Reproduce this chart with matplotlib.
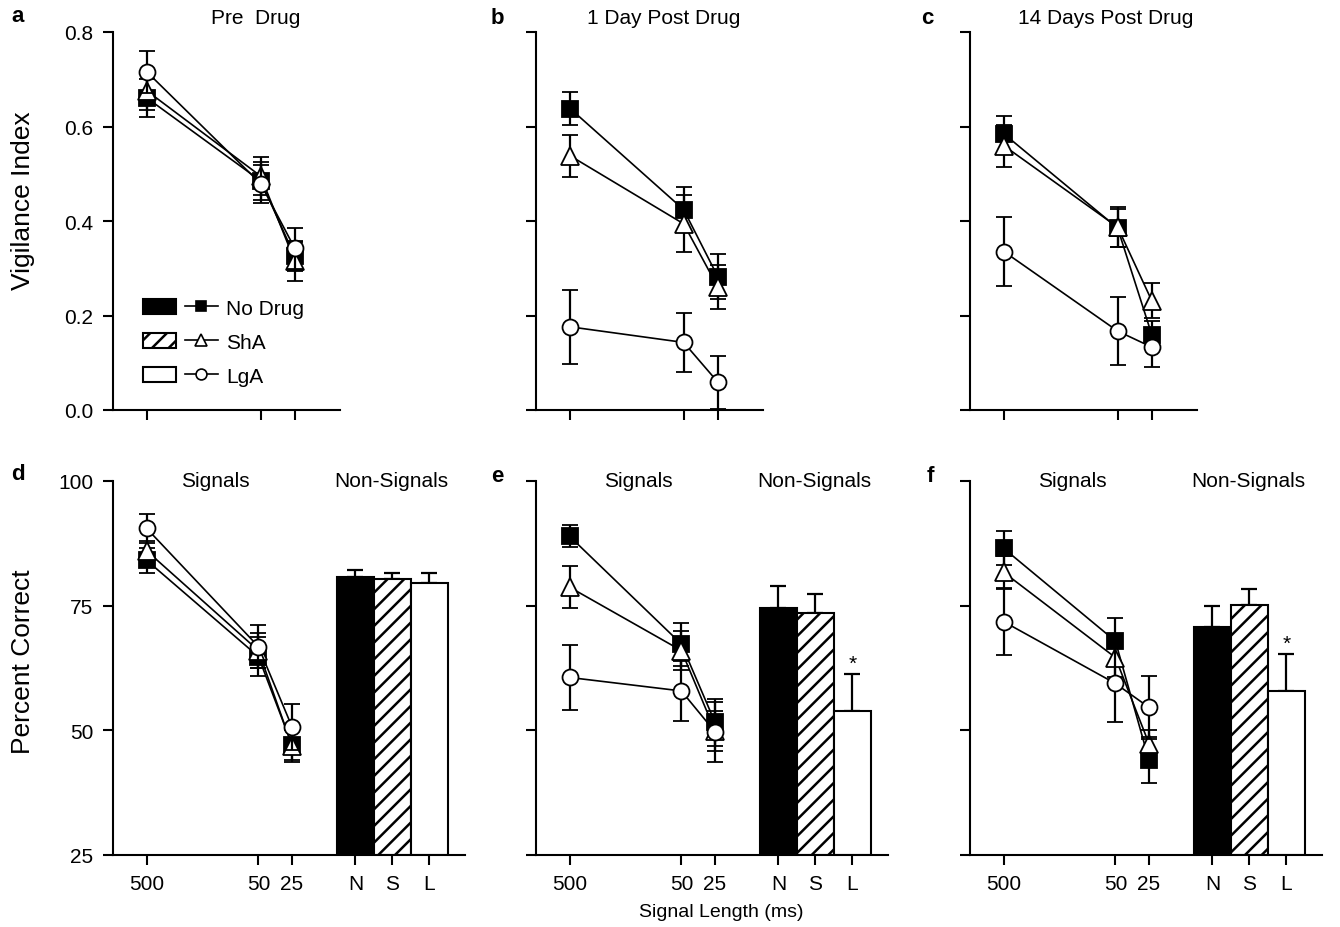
import numpy as np
import matplotlib.pyplot as plt
from matplotlib.patches import Patch
from matplotlib.lines import Line2D
from matplotlib.legend_handler import HandlerTuple

plt.rcParams['font.family'] = 'Liberation Sans'
plt.rcParams['hatch.linewidth'] = 1.8

# ---- data ----
signal_ms = [500, 50, 25]
groups = ['No Drug', 'ShA', 'LgA']
bar_cats = ['N', 'S', 'L']
titles = ['Pre  Drug', '1 Day Post Drug', '14 Days Post Drug']

# vigilance index, rows = No Drug, ShA, LgA ; cols = 500, 50, 25 ms
vi_pre = [[0.660, 0.485, 0.325], [0.675, 0.495, 0.315], [0.715, 0.479, 0.342]]
vi_pre_sem = [[0.040, 0.040, 0.030], [0.040, 0.040, 0.043], [0.045, 0.040, 0.043]]
vi_1d = [[0.638, 0.424, 0.282], [0.538, 0.394, 0.260], [0.176, 0.143, 0.059]]
vi_1d_sem = [[0.035, 0.047, 0.048], [0.044, 0.060, 0.046], [0.078, 0.063, 0.056]]
vi_14d = [[0.584, 0.385, 0.159], [0.559, 0.387, 0.231], [0.335, 0.167, 0.133]]
vi_14d_sem = [[0.038, 0.040, 0.030], [0.045, 0.042, 0.037], [0.073, 0.072, 0.041]]

# percent correct on signal trials
pc_pre = [[84.1, 64.8, 47.1], [86.0, 66.0, 46.9], [90.5, 66.8, 50.7]]
pc_pre_sem = [[2.5, 3.9, 3.0], [2.0, 3.5, 3.3], [2.9, 4.3, 4.6]]
pc_1d = [[88.9, 67.3, 51.6], [78.7, 66.0, 49.9], [60.6, 57.9, 49.7]]
pc_1d_sem = [[2.2, 4.3, 4.7], [4.2, 4.0, 4.0], [6.6, 6.0, 6.0]]
pc_14d = [[86.5, 67.9, 44.0], [81.7, 64.6, 47.3], [71.8, 59.4, 54.6]]
pc_14d_sem = [[3.4, 4.7, 4.6], [3.2, 4.0, 2.8], [6.6, 7.7, 6.3]]

# percent correct on non-signal trials (N, S, L)
ns_pre = [80.8, 80.3, 79.5]
ns_pre_sem = [1.4, 1.2, 2.0]
ns_1d = [74.5, 73.5, 53.8]
ns_1d_sem = [4.4, 3.9, 7.5]
ns_14d = [70.8, 75.1, 57.8]
ns_14d_sem = [4.2, 3.2, 7.5]
ns_sig = [[False, False, False], [False, False, True], [False, False, True]]

# ---- layout ----
W, H = 1340, 928
fig = plt.figure(figsize=(W / 100, H / 100), dpi=100)


def px_axes(left, top, width, height):
    return fig.add_axes([left / W, 1 - (top + height) / H, width / W, height / H])


MARKERS = [('s', 'black', 11), ('^', 'white', 13), ('o', 'white', 11.5)]
BAR_FILL = ['black', 'white', 'white']
BAR_HATCH = [None, '//', None]

xpos = 3 - np.log10(signal_ms)   # log spacing, reversed
bar_x = np.array([2.17, 2.50, 2.83])


def style(ax, xlim, ylim, yticks, show_labels):
    for s in ['top', 'right']:
        ax.spines[s].set_visible(False)
    for s in ['left', 'bottom']:
        ax.spines[s].set_linewidth(1.5)
    ax.tick_params(direction='out', length=7, width=1.5, labelsize=15, pad=7)
    ax.set_xlim(*xlim)
    ax.set_ylim(*ylim)
    ax.set_yticks(yticks)
    if not show_labels:
        ax.tick_params(labelleft=False)


def draw_lines(ax, means, sems):
    for k in range(3):
        m, fc, ms = MARKERS[k]
        ax.errorbar(xpos, means[k], yerr=sems[k], color='black', lw=1.2,
                    marker=m, ms=ms, mfc=fc, mec='black', mew=1.3,
                    ecolor='black', elinewidth=1.6, capsize=6, capthick=1.6,
                    zorder=3 + k, clip_on=False)


lefts = [113, 536, 970]

# top row: vigilance index
vi_sets = [(vi_pre, vi_pre_sem), (vi_1d, vi_1d_sem), (vi_14d, vi_14d_sem)]
top_axes = []
for i, (means, sems) in enumerate(vi_sets):
    ax = px_axes(lefts[i], 33, 227, 378)
    style(ax, (0, 2.0), (0, 0.8), [0, 0.2, 0.4, 0.6, 0.8], i == 0)
    ax.set_xticks(xpos)
    ax.set_xticklabels([])
    if i == 0:
        ax.set_yticklabels(['0.0', '0.2', '0.4', '0.6', '0.8'])
    draw_lines(ax, means, sems)
    top_axes.append(ax)

# legend in panel a
handles = []
for k in range(3):
    m, fc, ms = MARKERS[k]
    handles.append((Patch(facecolor=BAR_FILL[k], edgecolor='black', hatch=BAR_HATCH[k], lw=1.5),
                    Line2D([], [], color='black', lw=1.2, marker=m, ms=ms * 0.68, mfc=fc,
                           mec='black', mew=1.2)))
top_axes[0].legend(handles, groups, handler_map={tuple: HandlerTuple(ndivide=None, pad=0.4)},
                   loc='upper left', bbox_to_anchor=(0.132, 0.294), frameon=False,
                   fontsize=15, handlelength=3.6, handleheight=0.75, handletextpad=0.4,
                   borderpad=0, borderaxespad=0, labelspacing=0.72)

# bottom row: percent correct
pc_sets = [(pc_pre, pc_pre_sem, ns_pre, ns_pre_sem),
           (pc_1d, pc_1d_sem, ns_1d, ns_1d_sem),
           (pc_14d, pc_14d_sem, ns_14d, ns_14d_sem)]
for i, (means, sems, ns, ns_sem) in enumerate(pc_sets):
    ax = px_axes(lefts[i], 482, 352, 374)
    style(ax, (0, 3.15), (25, 100), [25, 50, 75, 100], i == 0)
    ax.set_xticks(list(xpos) + list(bar_x))
    ax.set_xticklabels([str(s) for s in signal_ms] + bar_cats)
    draw_lines(ax, means, sems)
    for j in range(3):
        ax.bar(bar_x[j], ns[j] - 25, bottom=25, width=0.33, color=BAR_FILL[j],
               edgecolor='black', linewidth=1.5, hatch=BAR_HATCH[j], zorder=2)
    ax.errorbar(bar_x, ns, yerr=[np.zeros(3), ns_sem], fmt='none', ecolor='black',
                elinewidth=1.6, capsize=6, capthick=1.6, zorder=1)
    for j in range(3):
        if ns_sig[i][j]:
            ax.annotate('*', (bar_x[j], ns[j] + ns_sem[j]), xytext=(0, 1),
                        textcoords='offset points', ha='center', va='bottom', fontsize=15)
    ax.text(0.92, 100, 'Signals', ha='center', va='center', fontsize=15)
    ax.text(2.49, 100, 'Non-Signals', ha='center', va='center', fontsize=15)

# labels
fig.text(23 / W, 1 - 201 / H, 'Vigilance Index', rotation=90, ha='center', va='center', fontsize=19)
fig.text(23 / W, 1 - 662 / H, 'Percent Correct', rotation=90, ha='center', va='center', fontsize=19)
fig.text(721 / W, 1 - 913 / H, 'Signal Length (ms)', ha='center', va='center', fontsize=14)

for (x, y), t in zip([(256, 18), (664, 18), (1106, 18)], titles):
    fig.text(x / W, 1 - y / H, t, ha='center', va='center', fontsize=15)

for (x, y), t in zip([(18, 17), (497, 18), (927, 19), (18, 475), (497, 476), (930, 476)], 'abcdef'):
    fig.text(x / W, 1 - y / H, t, ha='center', va='center', fontsize=16, fontweight='bold')

fig.savefig('out.png', dpi=100)
